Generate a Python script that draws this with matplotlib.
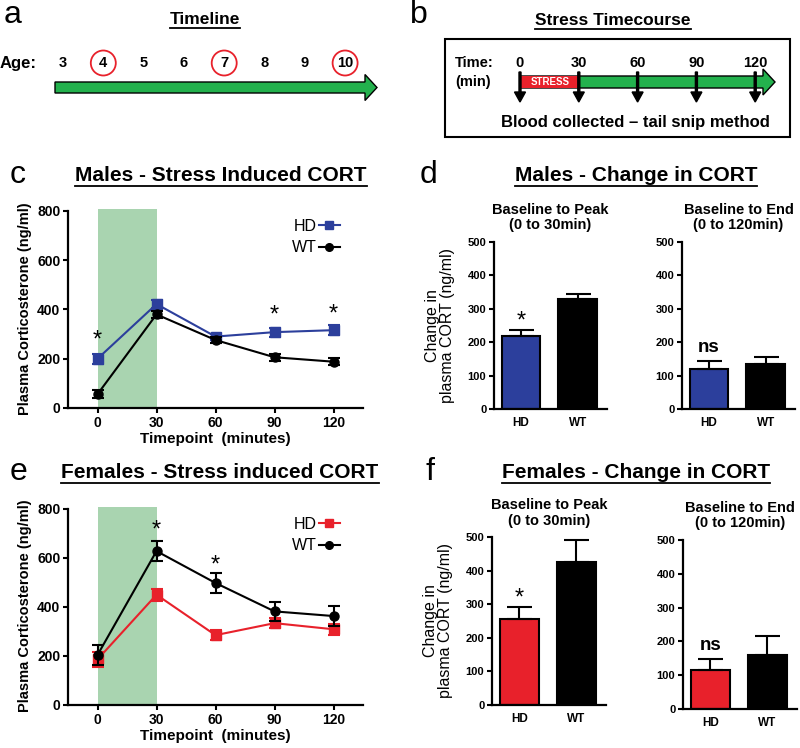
import matplotlib
matplotlib.use('Agg')
import matplotlib.pyplot as plt
from matplotlib.patches import FancyArrow, Rectangle, Circle
from matplotlib.lines import Line2D

plt.rcParams['font.family'] = ['Liberation Sans', 'DejaVu Sans']

# Timeline data
ages = [3, 4, 5, 6, 7, 8, 9, 10]
ages_circled = [4, 7, 10]
stress_times = [0, 30, 60, 90, 120]

# Stress induced CORT (ng/ml), timepoints in minutes
timepoints = [0, 30, 60, 90, 120]
male_hd = [200, 422, 290, 308, 316]
male_hd_err = [20, 16, 12, 18, 20]
male_wt = [56, 380, 276, 206, 188]
male_wt_err = [16, 14, 14, 15, 15]
male_star_x = [0, 90, 120]
male_star_y = [272, 375, 378]

female_hd = [186, 450, 285, 334, 309]
female_hd_err = [30, 24, 20, 20, 22]
female_wt = [204, 628, 498, 382, 363]
female_wt_err = [40, 40, 40, 40, 40]
female_star_x = [30, 60]
female_star_y = [710, 568]

# Change in CORT (ng/ml)
groups = ['HD', 'WT']
male_peak = [219, 328]
male_peak_err = [19, 15]
male_end = [119, 135]
male_end_err = [25, 22]
female_peak = [255, 427]
female_peak_err = [38, 64]
female_end = [115, 160]
female_end_err = [33, 56]

BLUE = '#2c3f9c'
RED = '#e8212b'
GREEN_SHADE = '#a9d4b0'
GREEN = '#23b14d'

W, H = 800, 748
fig = plt.figure(figsize=(8, 7.48), dpi=100)

# overlay axes in pixel coordinates for the schematic panels and titles
ov = fig.add_axes([0, 0, 1, 1], zorder=-1)
ov.set_xlim(0, W)
ov.set_ylim(H, 0)
ov.axis('off')


def px_axes(x0, y_top, x1, y_bot):
    return fig.add_axes([x0 / W, 1 - y_bot / H, (x1 - x0) / W, (y_bot - y_top) / H])


def style(ax, size):
    for s in ['top', 'right']:
        ax.spines[s].set_visible(False)
    for s in ['left', 'bottom']:
        ax.spines[s].set_linewidth(1.6)
    ax.tick_params(width=1.5, length=3.5, labelsize=size, pad=2)
    for lab in ax.get_xticklabels() + ax.get_yticklabels():
        lab.set_fontweight('bold')


titles = []


def title(x, y, s, size=15):
    t = ov.text(x, y, s, ha='center', va='center', fontsize=size, fontweight='bold')
    titles.append(t)


def letter(x, y, s):
    ov.text(x, y, s, ha='left', va='center', fontsize=23)


# ---- panel a: timeline ----
letter(4, 15, 'a')
title(205, 19, 'Timeline', size=12.5)
ov.text(0, 63, 'Age:', ha='left', va='center', fontsize=12, fontweight='bold')
for a in ages:
    x = 63 + (a - 3) * 40.3
    ov.text(x, 63, str(a), ha='center', va='center', fontsize=10.5, fontweight='bold')
    if a in ages_circled:
        ov.add_patch(Circle((x, 63), 12.5, fill=False, ec=RED, lw=1.3))
ov.add_patch(FancyArrow(55, 87.5, 322, 0, width=11, head_width=26, head_length=12,
                        length_includes_head=True, fc=GREEN, ec='black', lw=1))

# ---- panel b: stress timecourse ----
letter(410, 15, 'b')
title(613, 20, 'Stress Timecourse', size=12.5)
ov.add_patch(Rectangle((445, 39), 345, 98, fill=False, ec='black', lw=1.5))
ov.text(455, 63, 'Time:', ha='left', va='center', fontsize=10.5, fontweight='bold')
ov.text(455, 82, '(min)', ha='left', va='center', fontsize=10.5, fontweight='bold')
ov.add_patch(FancyArrow(520, 82, 255, 0, width=12, head_width=26, head_length=12,
                        length_includes_head=True, fc=GREEN, ec='black', lw=1))
ov.add_patch(Rectangle((520, 76), 60, 12, fc=RED, ec='none'))
ov.text(550, 82, 'STRESS', ha='center', va='center', fontsize=7, fontweight='bold', color='white')
for t in stress_times:
    x = 520 + t * 1.96
    ov.text(x, 63, str(t), ha='center', va='center', fontsize=10.5, fontweight='bold')
    ov.add_patch(FancyArrow(x, 72, 0, 30, width=2, head_width=11, head_length=10,
                            length_includes_head=True, fc='black', ec='black'))
ov.text(635, 122, 'Blood collected \u2013 tail snip method', ha='center', va='center',
        fontsize=12, fontweight='bold')


# ---- line panels c and e ----
def line_panel(ax, hd, hd_err, wt, wt_err, hd_color, star_x, star_y):
    ax.axvspan(0, 30, ymin=0, ymax=1, color=GREEN_SHADE, lw=0, zorder=0)
    ax.errorbar(timepoints, hd, yerr=hd_err, color=hd_color, marker='s', ms=7.5,
                lw=1.5, capsize=4, elinewidth=1.5, capthick=1.5, zorder=3)
    ax.errorbar(timepoints, wt, yerr=wt_err, color='black', marker='o', ms=6.5,
                lw=1.5, capsize=4, elinewidth=1.5, capthick=1.5, zorder=4)
    for x, y in zip(star_x, star_y):
        ax.text(x, y, '*', ha='center', va='center', fontsize=17)
    ax.set_xlim(-15, 135)
    ax.set_ylim(0, 810)
    ax.spines['left'].set_bounds(0, 800)
    ax.set_xticks(timepoints)
    ax.set_yticks([0, 200, 400, 600, 800])
    ax.set_xlabel('Timepoint  (minutes)', fontsize=11, fontweight='bold', labelpad=2)
    ax.set_ylabel('Plasma Corticosterone (ng/ml)', fontsize=10.5, fontweight='bold', labelpad=4)
    style(ax, 10)
    handles = [Line2D([], [], color=hd_color, marker='s', ms=6, lw=1.5),
               Line2D([], [], color='black', marker='o', ms=5.5, lw=1.5)]
    ax.legend(handles, groups, loc='upper right', bbox_to_anchor=(0.97, 1.02), frameon=False,
              markerfirst=False, fontsize=11.5, handlelength=1.3, handletextpad=0.15,
              labelspacing=0.4)


ax_c = px_axes(68, 208.5, 363, 408)
line_panel(ax_c, male_hd, male_hd_err, male_wt, male_wt_err, BLUE, male_star_x, male_star_y)
letter(10, 175, 'c')
title(221, 175, 'Males - Stress Induced CORT')

ax_e = px_axes(68, 506.5, 363, 705)
line_panel(ax_e, female_hd, female_hd_err, female_wt, female_wt_err, RED, female_star_x, female_star_y)
letter(10, 472, 'e')
title(220, 472, 'Females - Stress induced CORT')


# ---- bar panels d and f ----
def bar_panel(ax, vals, errs, hd_color, mark, sub, ylab):
    ax.bar([0, 1], vals, width=0.68, color=[hd_color, 'black'], ec='black', lw=1.5,
           yerr=[[0, 0], errs], error_kw=dict(ecolor='black', elinewidth=1.5, capsize=9, capthick=1.5))
    ax.set_xlim(-0.48, 1.52)
    ax.set_ylim(0, 500)
    ax.set_xticks([0, 1])
    ax.set_xticklabels(groups)
    ax.set_yticks([0, 100, 200, 300, 400, 500])
    style(ax, 8)
    ax.tick_params(axis='x', length=0, pad=6, labelsize=8.5)
    if mark == '*':
        ax.text(0, vals[0] + errs[0] + 24, '*', ha='center', va='center', fontsize=17)
    else:
        ax.text(0, vals[0] + errs[0] + 40, 'ns', ha='center', va='center', fontsize=13.5, fontweight='bold')
    ax.set_title(sub, fontsize=10.5, fontweight='bold', pad=9, linespacing=1.15)
    if ylab:
        ax.set_ylabel('Change in\nplasma CORT (ng/ml)', fontsize=11.5, labelpad=9, linespacing=1.05)


ax_d1 = px_axes(494, 242, 607, 409)
bar_panel(ax_d1, male_peak, male_peak_err, BLUE, '*', 'Baseline to Peak\n(0 to 30min)', True)
ax_d2 = px_axes(682, 242, 795, 409)
bar_panel(ax_d2, male_end, male_end_err, BLUE, 'ns', 'Baseline to End\n(0 to 120min)', False)
letter(420, 175, 'd')
title(636, 175, 'Males - Change in CORT')

ax_f1 = px_axes(492, 537, 606, 705)
bar_panel(ax_f1, female_peak, female_peak_err, RED, '*', 'Baseline to Peak\n(0 to 30min)', True)
ax_f2 = px_axes(683, 540, 797, 709)
bar_panel(ax_f2, female_end, female_end_err, RED, 'ns', 'Baseline to End\n(0 to 120min)', False)
letter(425, 472, 'f')
title(636, 472, 'Females - Change in CORT')

# underline the titles
fig.canvas.draw()
r = fig.canvas.get_renderer()
inv = ov.transData.inverted()
for t in titles:
    bb = t.get_window_extent(renderer=r)
    (x0, y0), (x1, y1) = inv.transform([(bb.x0, bb.y0), (bb.x1, bb.y1)])
    ov.add_line(Line2D([x0, x1], [y0 + 1, y0 + 1], color='black', lw=1.3))

fig.savefig('out.png', dpi=100)
